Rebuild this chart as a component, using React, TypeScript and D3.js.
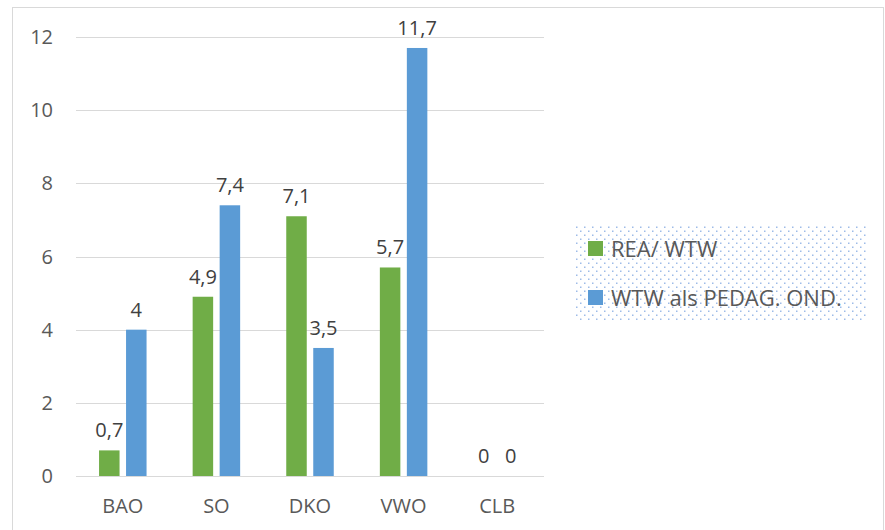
import React from "react";
import * as d3 from "d3";

const categories = ["BAO", "SO", "DKO", "VWO", "CLB"];
const seriesNames = ["REA/ WTW", "WTW als PEDAG. OND."];
const reaValues = [0.7, 4.9, 7.1, 5.7, 0];
const wtwValues = [4, 7.4, 3.5, 11.7, 0];
const yTicks = [0, 2, 4, 6, 8, 10, 12];
const colors = ["#70AD47", "#5B9BD5"];

const W = 885;
const H = 530;
const font = "'Open Sans', sans-serif";

export default function App() {
  const x0 = d3.scaleBand().domain(categories).range([76, 544]).paddingInner(0).paddingOuter(0);
  const y = d3.scaleLinear().domain([0, 12]).range([476, 37]);
  const series = [reaValues, wtwValues];
  const bw = 20.5;
  const gap = 6.5;
  const fmt = (v: number) => String(v).replace(".", ",");
  return (
    <svg width={W} height={H} style={{ position: "absolute", left: 0, top: 0 }}>
      <defs>
        <pattern id="dots" width="8" height="8" patternUnits="userSpaceOnUse" x="575" y="226">
          <rect x="1" y="0.5" width="1.5" height="1.5" fill="#9DBBE8" />
          <rect x="5" y="4.5" width="1.5" height="1.5" fill="#9DBBE8" />
        </pattern>
      </defs>
      <rect x={0} y={0} width={W} height={H} fill="#fff" />
      <rect x={12.5} y={7.5} width={871} height={530} fill="#fff" stroke="#d9d9d9" strokeWidth={1} />
      {yTicks.map((t) => (
        <g key={t}>
          <line x1={76} x2={544} y1={Math.round(y(t)) + 0.5} y2={Math.round(y(t)) + 0.5} stroke="#d9d9d9" strokeWidth={1} />
          <text x={53} y={y(t) + 7} textAnchor="end" fontFamily={font} fontSize={20} fill="#595959">{t}</text>
        </g>
      ))}
      {categories.map((c, i) => {
        const cx = (x0(c) as number) + x0.bandwidth() / 2;
        return (
          <g key={c}>
            {series.map((s, k) => {
              const bx = k === 0 ? cx - gap / 2 - bw : cx + gap / 2;
              const v = s[i];
              return (
                <g key={k}>
                  {v > 0 && <rect x={bx} y={y(v)} width={bw} height={y(0) - y(v)} fill={colors[k]} />}
                  <text x={bx + bw / 2} y={y(v) - 13} textAnchor="middle" fontFamily={font} fontSize={20} fill="#404040">{fmt(v)}</text>
                </g>
              );
            })}
            <text x={cx} y={513} textAnchor="middle" fontFamily={font} fontSize={20} fill="#595959">{c}</text>
          </g>
        );
      })}
      <rect x={575} y={226} width={292} height={94} fill="url(#dots)" />
      {seriesNames.map((n, k) => (
        <g key={n}>
          <rect x={588} y={241 + k * 49} width={15} height={15} fill={colors[k]} />
          <text x={611} y={257 + k * 49} fontFamily={font} fontSize={22} fill="#595959">{n}</text>
        </g>
      ))}
    </svg>
  );
}
